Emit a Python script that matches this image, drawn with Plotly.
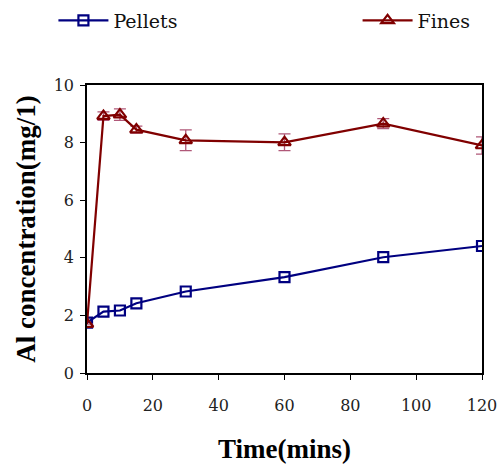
import plotly.graph_objects as go

time = [0, 5, 10, 15, 30, 60, 90, 120]
pellets = [1.75, 2.13, 2.17, 2.42, 2.83, 3.33, 4.02, 4.41]
fines = [1.70, 8.92, 8.97, 8.45, 8.08, 8.01, 8.66, 7.90]
fines_err = [0.0, 0.15, 0.2, 0.12, 0.36, 0.29, 0.17, 0.3]

serif = "DejaVu Serif"
tickfont = dict(family=serif, size=16, color="#222")
titlefont = dict(size=27, family="Liberation Serif", color="black")

fig = go.Figure()
fig.add_trace(go.Scatter(
    x=time, y=pellets, name="Pellets", mode="lines+markers", legend="legend",
    line=dict(color="#000080", width=2.2),
    marker=dict(symbol="square-open", size=10, color="#000080", line=dict(width=2.2)),
))
fig.add_trace(go.Scatter(
    x=time, y=fines, name="Fines", mode="lines+markers", legend="legend2",
    line=dict(color="#800000", width=2.2),
    marker=dict(symbol="triangle-up-open", size=11, color="#800000", line=dict(width=2.2)),
    error_y=dict(type="data", array=fines_err, visible=True, color="#b05878", thickness=1.3, width=6),
))

legcommon = dict(y=1.29, yanchor="top", xanchor="left",
                 font=dict(size=19, family=serif, color="#111"), bgcolor="rgba(0,0,0,0)",
                 itemwidth=50)

fig.update_layout(
    width=500, height=472,
    showlegend=True,
    margin=dict(l=87, r=18, t=85, b=99, autoexpand=False),
    plot_bgcolor="white", paper_bgcolor="white",
    font=dict(family=serif, size=16, color="#222"),
    legend=dict(x=-0.085, **legcommon),
    legend2=dict(x=0.685, **legcommon),
    xaxis=dict(range=[0, 120], tickvals=[0, 20, 40, 60, 80, 100, 120], tickfont=tickfont,
               ticks="outside", ticklen=5, tickcolor="black", linecolor="black", linewidth=1.5,
               mirror=True, showgrid=False, zeroline=False, ticklabelstandoff=12,
               title=dict(text="<b>Time(mins)</b>", font=titlefont, standoff=25)),
    yaxis=dict(range=[0, 10], tickvals=[0, 2, 4, 6, 8, 10], tickfont=tickfont,
               ticks="outside", ticklen=5, tickcolor="black", linecolor="black", linewidth=1.5,
               mirror=True, showgrid=False, zeroline=False, ticklabelstandoff=3,
               title=dict(text="<b>Al concentration(mg/1)</b>", font=titlefont, standoff=10)),
)

fig.write_html("out.html")
